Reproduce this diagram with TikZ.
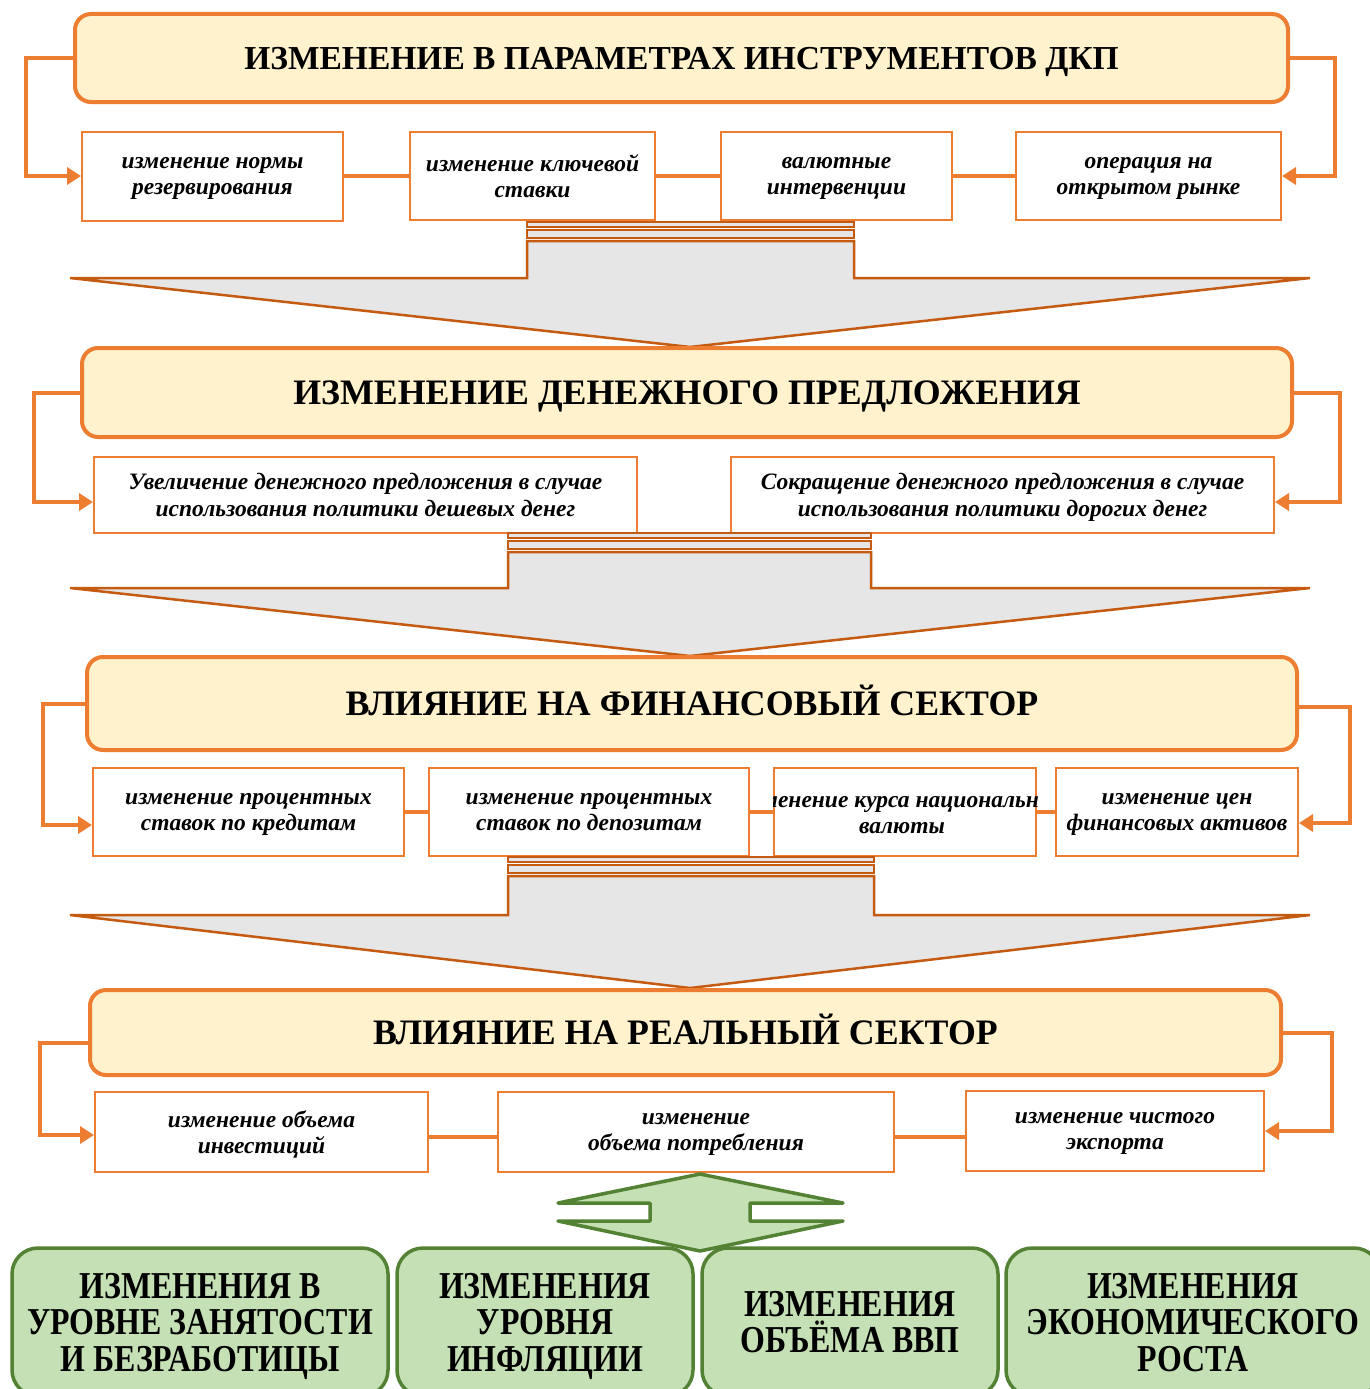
\documentclass[tikz,border=0pt]{standalone}
\usepackage{fontspec}
\setmainfont{Liberation Serif}
\newfontfamily\resultfont[FakeStretch=0.84]{Liberation Serif}
\usetikzlibrary{arrows.meta}

\definecolor{dkporange}{HTML}{ED7D31}
\definecolor{titlefill}{HTML}{FFF2CC}
\definecolor{flowedge}{HTML}{C55A11}
\definecolor{flowfill}{HTML}{E6E6E6}
\definecolor{resultfill}{HTML}{C5E0B4}
\definecolor{resultedge}{HTML}{548235}

\begin{document}
\begin{tikzpicture}[x=1pt,y=-1pt,
    titlebox/.style={draw=dkporange, line width=4pt, fill=titlefill, rounded corners=16pt,
      inner sep=0pt, text height=23pt, text depth=0pt, font=\fontsize{35.8}{40}\selectfont\bfseries},
    itembox/.style={draw=dkporange, line width=2pt, fill=white, inner sep=0pt, align=center,
      text depth=0pt, font=\fontsize{23.5}{26.5}\selectfont\bfseries\itshape},
    itemtext/.style={inner sep=0pt, align=center, text depth=0pt,
      font=\fontsize{23.5}{26.5}\selectfont\bfseries\itshape},
    link/.style={draw=dkporange, line width=3.5pt},
    feed/.style={draw=dkporange, line width=4pt, -{Triangle[length=14pt,width=17pt]}},
    flow/.style={draw=flowedge, line width=2.5pt, fill=flowfill},
    resultbox/.style={draw=resultedge, line width=3.5pt, fill=resultfill, rounded corners=26pt,
      inner sep=0pt, align=center, text depth=0pt,
      font=\resultfont\fontsize{38}{36.5}\selectfont\bfseries}]
  \clip (0,0) rectangle (1370,1389);
  \fill[white] (0,0) rectangle (1370,1389);

  % level 1
  \node[titlebox, minimum width=1213, minimum height=88, font=\fontsize{33.5}{40}\selectfont\bfseries]
    (tools) at (681.5,58) {ИЗМЕНЕНИЕ В ПАРАМЕТРАХ ИНСТРУМЕНТОВ ДКП};
  \node[itembox, minimum width=261, minimum height=89] (reserve) at (212.5,176)
    {изменение нормы\\резервирования};
  \node[itembox, minimum width=245, minimum height=88] (keyrate) at (532.5,176)
    {изменение ключевой\\ставки};
  \node[itembox, minimum width=231, minimum height=88] (fxint) at (836.5,176)
    {валютные\\интервенции};
  \node[itembox, minimum width=265, minimum height=88] (openmkt) at (1148.5,176)
    {операция на\\открытом рынке};
  \draw[link] (reserve.east) -- (keyrate.west);
  \draw[link] (keyrate.east) -- (fxint.west);
  \draw[link] (fxint.east) -- (openmkt.west);
  \draw[feed] (tools.west) -- ++(-47,0) |- (reserve.west);
  \draw[feed] (tools.east) -- ++(45,0) |- (openmkt.east);

  % big arrow 1
  \draw[flow] (527,222) rectangle (854,227);
  \draw[flow] (527,230) rectangle (854,238);
  \draw[flow] (527,241) -- (527,278) -- (70,278) -- (690,347) -- (1310,278) -- (854,278) -- (854,241) -- cycle;

  % level 2
  \node[titlebox, minimum width=1210, minimum height=89] (money) at (687,392.5)
    {ИЗМЕНЕНИЕ ДЕНЕЖНОГО ПРЕДЛОЖЕНИЯ};
  \node[itembox, minimum width=543, minimum height=76] (cheap) at (365.5,495)
    {Увеличение денежного предложения в случае\\использования политики дешевых денег};
  \node[itembox, minimum width=543, minimum height=76] (dear) at (1002.5,495)
    {Сокращение денежного предложения в случае\\использования политики дорогих денег};
  \draw[feed] (money.west) -- ++(-46,0) |- ([yshift=-7pt]cheap.west);
  \draw[feed] (money.east) -- ++(46,0) |- ([yshift=-7pt]dear.east);

  % big arrow 2
  \draw[flow] (508,533) rectangle (871,538);
  \draw[flow] (508,541) rectangle (871,549);
  \draw[flow] (508,552) -- (508,588) -- (70,588) -- (690,656) -- (1310,588) -- (871,588) -- (871,552) -- cycle;

  % level 3
  \node[titlebox, minimum width=1210, minimum height=93] (finance) at (692,703.5)
    {ВЛИЯНИЕ НА ФИНАНСОВЫЙ СЕКТОР};
  \node[itembox, minimum width=311, minimum height=88] (loans) at (248.5,812)
    {изменение процентных\\ставок по кредитам};
  \node[itembox, minimum width=320, minimum height=88] (deposits) at (589,812)
    {изменение процентных\\ставок по депозитам};
  \node[itembox, minimum width=262, minimum height=88] (currency) at (905,812) {};
  \begin{scope}
    \clip (currency.south west) rectangle (currency.north east);
    \node[itemtext] at (902,812) {изменение курса национальной\\валюты};
  \end{scope}
  \node[itembox, minimum width=242, minimum height=88] (assets) at (1177,812)
    {изменение цен\\финансовых активов};
  \draw[link] (loans.east) -- (deposits.west);
  \draw[link] (deposits.east) -- (currency.west);
  \draw[link] (currency.east) -- (assets.west);
  \draw[feed] (finance.west) -- ++(-42,0) |- ([yshift=-13pt]loans.west);
  \draw[feed] ([yshift=-3pt]finance.east) -- ++(51,0) |- ([yshift=-11pt]assets.east);

  % big arrow 3
  \draw[flow] (508,857) rectangle (874,862);
  \draw[flow] (508,865) rectangle (874,873);
  \draw[flow] (508,876) -- (508,915) -- (70,915) -- (690,988) -- (1310,915) -- (874,915) -- (874,876) -- cycle;

  % level 4
  \node[titlebox, minimum width=1191, minimum height=85] (real) at (685.5,1032.5)
    {ВЛИЯНИЕ НА РЕАЛЬНЫЙ СЕКТОР};
  \node[itembox, minimum width=333, minimum height=80] (invest) at (261.5,1132)
    {изменение объема\\инвестиций};
  \node[itembox, minimum width=396, minimum height=80] (consume) at (696,1132)
    {изменение\\объема потребления};
  \node[itembox, minimum width=298, minimum height=80] (export) at (1115,1131)
    {изменение чистого\\экспорта};
  \draw[link] ([yshift=-5pt]invest.east) -- ([yshift=-5pt]consume.west);
  \draw[link] ([yshift=-5pt]consume.east) -- ([yshift=-6pt]export.west);
  \draw[feed] ([yshift=-10pt]real.west) -- ++(-48,0) |- ([yshift=-3pt]invest.west);
  \draw[feed] (real.east) -- ++(49,0) |- (export.east);

  % results
  \draw[resultedge, line width=3.5pt, line join=round, fill=resultfill]
    (700,1174) -- (843,1203) -- (750,1203) -- (750,1221) -- (843,1221) -- (700,1251)
    -- (558,1221) -- (650,1221) -- (650,1203) -- (558,1203) -- cycle;
  \node[resultbox, minimum width=376, minimum height=148] (jobs) at (200,1322)
    {ИЗМЕНЕНИЯ В\\УРОВНЕ ЗАНЯТОСТИ\\И БЕЗРАБОТИЦЫ};
  \node[resultbox, minimum width=296, minimum height=148] (inflation) at (545,1322)
    {ИЗМЕНЕНИЯ\\УРОВНЯ\\ИНФЛЯЦИИ};
  \node[resultbox, minimum width=296, minimum height=148] (gdp) at (850,1322)
    {ИЗМЕНЕНИЯ\\ОБЪЁМА ВВП};
  \node[resultbox, minimum width=374, minimum height=148] (growth) at (1193,1322)
    {ИЗМЕНЕНИЯ\\ЭКОНОМИЧЕСКОГО\\РОСТА};
\end{tikzpicture}
\end{document}
